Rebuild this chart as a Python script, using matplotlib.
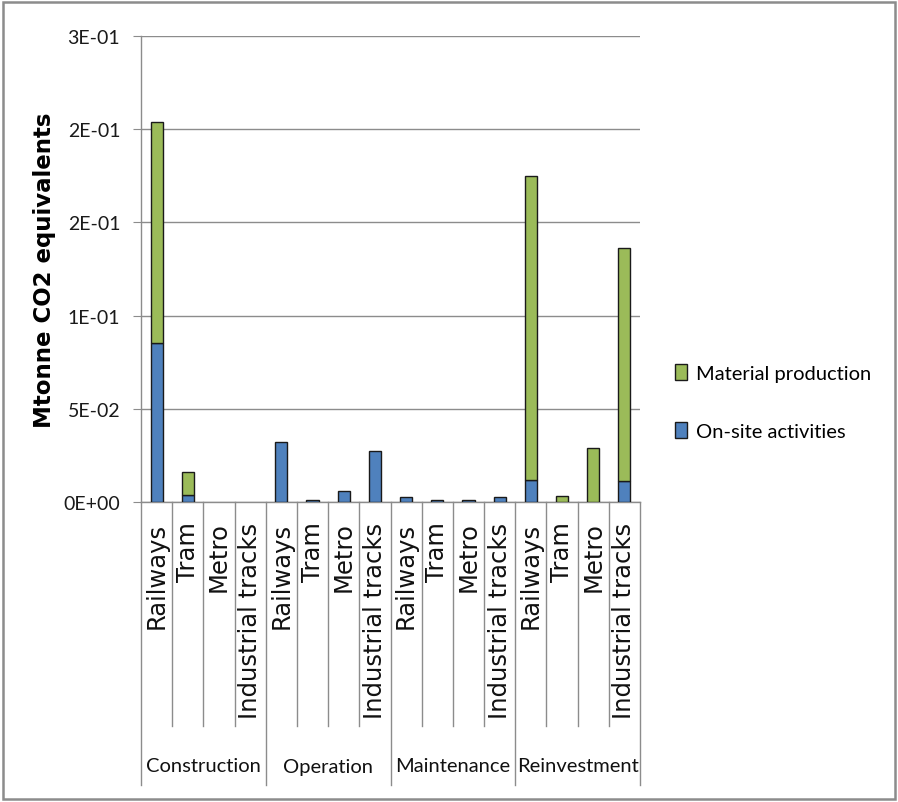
import matplotlib
matplotlib.use("Agg")
import matplotlib.pyplot as plt
from matplotlib.patches import Rectangle, Patch
import matplotlib.transforms as mtransforms
import numpy as np

# Life-cycle phases and transport modes
phases = ["Construction", "Operation", "Maintenance", "Reinvestment"]
modes = ["Railways", "Tram", "Metro", "Industrial tracks"]

# Emissions (Mtonne CO2 eq.) per phase/mode, in the order of phases x modes
onsite = [0.0853, 0.0038, 0.0, 0.0,
          0.0320, 0.0011, 0.0057, 0.0272,
          0.0025, 0.0009, 0.0009, 0.0025,
          0.0118, 0.0, 0.0, 0.0111]
material = [0.1188, 0.0121, 0.0, 0.0,
            0.0, 0.0, 0.0, 0.0,
            0.0, 0.0, 0.0, 0.0,
            0.1629, 0.0031, 0.0292, 0.1252]

ytick_values = [0.0, 0.05, 0.10, 0.15, 0.20, 0.25]
ytick_labels = ["0E+00", "5E-02", "1E-01", "2E-01", "2E-01", "3E-01"]

GREEN = "#9BBB59"
BLUE = "#4F81BD"
GRID = "#8C8C8C"
NARROW = ["Lato", "DejaVu Sans"]

W, H = 898, 803
fig = plt.figure(figsize=(W / 100, H / 100), dpi=100)
fig.patch.set_facecolor("white")

# axes box in pixels: x 141..640, y 37..503 (from top)
ax = fig.add_axes([141 / W, (H - 503) / H, (640 - 141) / W, (503 - 37) / H])

labels = [m for _ in phases for m in modes]
x = np.arange(len(labels))
onsite_a = np.array(onsite)
material_a = np.array(material)

bw = 0.39
ax.bar(x, onsite_a, width=bw, color=BLUE, edgecolor="#1a1a1a",
       linewidth=[1.0 if v > 0 else 0 for v in onsite_a], zorder=3)
ax.bar(x, material_a, width=bw, bottom=onsite_a, color=GREEN, edgecolor="#1a1a1a",
       linewidth=[1.0 if v > 0 else 0 for v in material_a], zorder=3)

ax.set_xlim(-0.5, len(labels) - 0.5)
ax.set_ylim(0, 0.25)

ax.set_yticks(ytick_values)
ax.set_yticklabels(ytick_labels, family=NARROW, fontsize=14, color="#1a1a1a")
ax.tick_params(axis="y", length=6, width=0.8, color=GRID, pad=9)
ax.yaxis.grid(True, color=GRID, linewidth=1.0, zorder=0)
ax.set_axisbelow(True)

ax.set_xticks(x)
ax.set_xticklabels(labels, rotation=90, fontsize=17.5, family="DejaVu Sans",
                   va="top", ha="center", color="#111111")
ax.tick_params(axis="x", length=0, pad=14)

for s in ["top", "right"]:
    ax.spines[s].set_visible(False)
for s in ["left", "bottom"]:
    ax.spines[s].set_color(GRID)
    ax.spines[s].set_linewidth(1.0)

ax.set_ylabel("Mtonne CO2 equivalents", fontsize=16.5, fontweight="bold",
              family="DejaVu Sans")
ax.yaxis.set_label_coords(-0.17, 0.5)

# category separators below the axis
trans = mtransforms.blended_transform_factory(ax.transData, ax.transAxes)
axes_h = 503 - 37
inner_y = (503 - 727) / axes_h
outer_y = (503 - 786) / axes_h
label_y = (503 - 767) / axes_h
for i in range(len(labels) + 1):
    xe = i - 0.5
    yb = outer_y if i % len(modes) == 0 else inner_y
    ax.plot([xe, xe], [0, yb], color=GRID, linewidth=1.0, transform=trans,
            clip_on=False, zorder=1)

for j, ph in enumerate(phases):
    xc = j * len(modes) + (len(modes) - 1) / 2
    ax.text(xc, label_y, ph, transform=trans, ha="center", va="center",
            family=NARROW, fontsize=14.5, color="#111111")

handles = [Patch(facecolor=GREEN, edgecolor="#1a1a1a", linewidth=1.0),
           Patch(facecolor=BLUE, edgecolor="#1a1a1a", linewidth=1.0)]
fig.legend(handles, ["Material production", "On-site activities"],
           loc="center left", bbox_to_anchor=(675 / W, (H - 403) / H),
           frameon=False, prop={"family": NARROW, "size": 14.5},
           handlelength=0.62, handleheight=0.85, handletextpad=0.4,
           labelspacing=1.95, borderpad=0, borderaxespad=0)

# outer frame
fig.patches.append(Rectangle((3 / W, 3 / H), (W - 6) / W, (H - 6) / H,
                             transform=fig.transFigure, fill=False,
                             edgecolor="#8C8C8C", linewidth=1.8))

fig.savefig("out.png", dpi=100, facecolor="white")
